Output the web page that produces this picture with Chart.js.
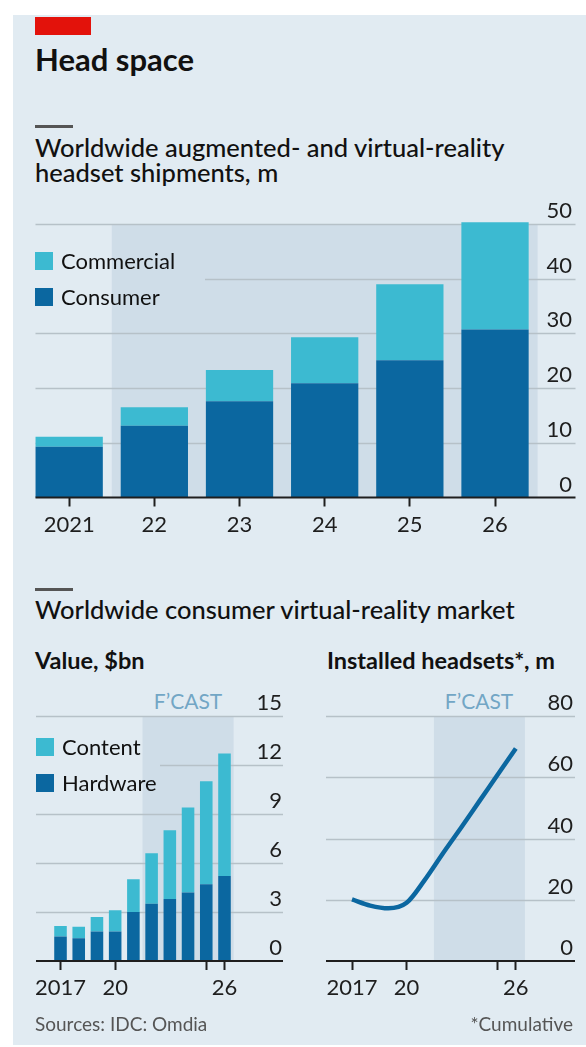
<!DOCTYPE html>
<html>
<head>
<meta charset="utf-8">
<script src="https://cdn.jsdelivr.net/npm/chart.js@4.4.1/dist/chart.umd.min.js"></script>
<style>
  body { margin: 0; width: 586px; height: 1047px; overflow: hidden; background: #fff; font-family: Lato, sans-serif; color: #111; }
  .abs { position: absolute; }
  #panel { left: 13px; top: 15px; width: 573px; height: 1030px; background: #e1ebf2; }
  #redbar { left: 35px; top: 17px; width: 56px; height: 18px; background: #e3120b; }
  .rule { left: 35px; width: 38px; height: 3px; background: #555; }
  #title { left: 35px; top: 44px; font-size: 31px; font-weight: 700; line-height: 31px; white-space: nowrap; }
  .sub { left: 35px; font-size: 25.5px; font-weight: 500; line-height: 25px; white-space: nowrap; }
  .sub2 { font-size: 23.5px; font-weight: 700; line-height: 23.5px; white-space: nowrap; }
  .legend { font-size: 22px; line-height: 36px; }
  .legend div { display: flex; align-items: center; height: 36px; }
  .legend span.sw { width: 18px; height: 18px; margin-right: 8px; display: inline-block; }
  .fc { color: #72a6c5; font-size: 21px; line-height: 21px; white-space: nowrap; transform: translateX(-50%); }
  .note { font-size: 19px; line-height: 19px; color: #555; white-space: nowrap; }
  canvas { position: absolute; }
</style>
</head>
<body>
<div class="abs" id="panel"></div>
<div class="abs" id="redbar"></div>
<div class="abs" id="title">Head space</div>

<div class="abs rule" style="top:125px"></div>
<div class="abs sub" style="top:134.5px">Worldwide augmented- and virtual-reality<br>headset shipments, m</div>

<div class="abs rule" style="top:588px"></div>
<div class="abs sub" style="top:597px">Worldwide consumer virtual-reality market</div>
<div class="abs sub2" style="left:35px; top:649px">Value, $bn</div>
<div class="abs sub2" style="left:327px; top:649px">Installed headsets*, m</div>

<div class="abs fc" style="left:323px; top:242px">FORECAST</div>
<div class="abs fc" style="left:188px; top:690px">F’CAST</div>
<div class="abs fc" style="left:479px; top:690px">F’CAST</div>

<canvas id="ship" width="586" height="360" style="left:0; top:190px"></canvas>
<canvas id="value" width="300" height="340" style="left:0; top:680px"></canvas>
<canvas id="installed" width="296" height="340" style="left:290px; top:680px"></canvas>

<div class="abs legend" id="shipLegend" style="left:35px; top:243px; width:170px"></div>
<div class="abs legend" id="valueLegend" style="left:36px; top:729px; width:124px"></div>

<div class="abs note" style="left:35px; top:1014px">Sources: IDC: Omdia</div>
<div class="abs note" style="right:13px; top:1014px">*Cumulative</div>

<script>
// headset shipments, m
const shipYears = ['2021', '22', '23', '24', '25', '26'];
const shipConsumer = [9.3, 13.1, 17.6, 20.9, 25.1, 30.7];
const shipCommercial = [1.8, 3.4, 5.7, 8.4, 13.9, 19.6];
const shipTicks = [0, 10, 20, 30, 40, 50];

// consumer VR market
const vrYears = ['2017', '2018', '2019', '2020', '2021', '2022', '2023', '2024', '2025', '2026'];
const vrYearLabels = ['2017', '', '', '20', '', '', '', '', '', '26'];
const vrTickMarks = [true, false, false, true, false, false, false, false, true, true];
const vrHardware = [1.5, 1.4, 1.8, 1.8, 3.0, 3.5, 3.8, 4.2, 4.7, 5.2];
const vrContent = [0.65, 0.7, 0.9, 1.3, 2.0, 3.1, 4.2, 5.2, 6.3, 7.5];
const vrValueTicks = [0, 3, 6, 9, 12, 15];
const vrInstalled = [20.1, 18.1, 17.2, 19.0, 26.5, 35.2, 43.6, 52.2, 60.8, 69.4];
const vrInstalledTicks = [0, 20, 40, 60, 80];

const DARK = '#0b67a0';
const LIGHT = '#3cbad1';
const SHADE = '#cfdde8';
const GRID = '#b6c1c8';
const AXIS = '#1e1e1e';
const FONT = { family: 'Lato, sans-serif', size: 22 };

// fill the html legends
function buildLegend(el, items) {
    el.innerHTML = items.map(it =>
        `<div><span class="sw" style="background:${it.color}"></span>${it.label}</div>`).join('');
}
buildLegend(document.getElementById('shipLegend'), [
    { label: 'Commercial', color: LIGHT },
    { label: 'Consumer', color: DARK }
]);
buildLegend(document.getElementById('valueLegend'), [
    { label: 'Content', color: LIGHT },
    { label: 'Hardware', color: DARK }
]);

// forecast shading, gridlines and the zero axis line
const econPlugin = {
    id: 'econ',
    beforeDatasetsDraw(chart, args, opts) {
        const { ctx, chartArea, scales: { x, y } } = chart;
        const pitch = x.getPixelForValue(1) - x.getPixelForValue(0);
        const fx0 = x.getPixelForValue(opts.forecastFrom) - pitch / 2;
        const fx1 = x.getPixelForValue(x.ticks.length - 1) + pitch / 2;
        ctx.save();
        ctx.fillStyle = SHADE;
        ctx.fillRect(fx0, chartArea.top, fx1 - fx0, chartArea.bottom - chartArea.top);

        let mask = null;
        if (opts.legend) {
            const r = document.getElementById(opts.legend).getBoundingClientRect();
            const c = chart.canvas.getBoundingClientRect();
            mask = { top: r.top - c.top, bottom: r.bottom - c.top, right: r.right - c.left };
        }
        ctx.strokeStyle = GRID;
        ctx.lineWidth = 1.5;
        y.ticks.forEach(t => {
            if (t.value === 0) return;
            const py = Math.round(y.getPixelForValue(t.value)) + 0.5;
            let x0 = opts.lineLeft;
            if (mask && py > mask.top && py < mask.bottom) x0 = mask.right;
            ctx.beginPath();
            ctx.moveTo(x0, py);
            ctx.lineTo(opts.lineRight, py);
            ctx.stroke();
        });
        ctx.restore();
    },
    afterDatasetsDraw(chart, args, opts) {
        const { ctx, scales: { y } } = chart;
        const py = y.getPixelForValue(0);
        ctx.save();
        ctx.strokeStyle = AXIS;
        ctx.lineWidth = 2;
        ctx.beginPath();
        ctx.moveTo(opts.lineLeft, py);
        ctx.lineTo(opts.lineRight, py);
        ctx.stroke();
        ctx.restore();
    }
};

// right-hand value axis, labels sit just above their gridlines
function yAxis(ticks, width) {
    return {
        position: 'right',
        min: ticks[0],
        max: ticks[ticks.length - 1],
        afterBuildTicks: s => { s.ticks = ticks.map(v => ({ value: v })); },
        afterFit: s => { s.width = width; },
        grid: { display: false },
        border: { display: false },
        ticks: { font: FONT, color: AXIS, crossAlign: 'far', labelOffset: -13 }
    };
}

function xAxis(labelFn, markFn) {
    return {
        offset: true,
        afterFit: s => { s.height = 42; },
        border: { display: false },
        grid: {
            offset: false,
            drawOnChartArea: false,
            drawTicks: true,
            tickLength: 9,
            tickWidth: 2,
            tickColor: c => markFn(c.index) ? AXIS : 'rgba(0,0,0,0)'
        },
        ticks: {
            font: FONT, color: AXIS, padding: 5, autoSkip: false, maxRotation: 0,
            callback: (v, i) => labelFn(i)
        }
    };
}

const common = {
    responsive: false,
    animation: false,
    events: [],
    plugins: { legend: { display: false }, tooltip: { enabled: false } }
};

new Chart(document.getElementById('ship'), {
    type: 'bar',
    data: {
        labels: shipYears,
        datasets: [
            { label: 'Consumer', data: shipConsumer, backgroundColor: DARK, clip: false },
            { label: 'Commercial', data: shipCommercial, backgroundColor: LIGHT, clip: false }
        ]
    },
    options: {
        ...common,
        barPercentage: 0.79,
        categoryPercentage: 1,
        layout: { padding: { left: 26.6, right: 14, top: 34, bottom: 10.5 } },
        scales: {
            x: { ...xAxis(i => shipYears[i], () => true), stacked: true },
            y: { ...yAxis(shipTicks, 34.4), stacked: true }
        },
        plugins: {
            ...common.plugins,
            econ: { forecastFrom: 1, lineLeft: 35.5, lineRight: 575.5, legend: 'shipLegend' }
        }
    },
    plugins: [econPlugin]
});

new Chart(document.getElementById('value'), {
    type: 'bar',
    data: {
        labels: vrYears,
        datasets: [
            { label: 'Hardware', data: vrHardware, backgroundColor: DARK },
            { label: 'Content', data: vrContent, backgroundColor: LIGHT }
        ]
    },
    options: {
        ...common,
        barPercentage: 0.69,
        categoryPercentage: 1,
        layout: { padding: { left: 51.4, right: 18, top: 36, bottom: 17 } },
        scales: {
            x: { ...xAxis(i => vrYearLabels[i], i => vrTickMarks[i]), stacked: true },
            y: { ...yAxis(vrValueTicks, 48.4), stacked: true }
        },
        plugins: {
            ...common.plugins,
            econ: { forecastFrom: 5, lineLeft: 36, lineRight: 283, legend: 'valueLegend' }
        }
    },
    plugins: [econPlugin]
});

new Chart(document.getElementById('installed'), {
    type: 'line',
    data: {
        labels: vrYears,
        datasets: [{
            label: 'Installed headsets',
            data: vrInstalled,
            borderColor: DARK,
            borderWidth: 4.5,
            pointRadius: 0,
            cubicInterpolationMode: 'monotone',
            borderJoinStyle: 'round'
        }]
    },
    options: {
        ...common,
        layout: { padding: { left: 52.9, right: 13, top: 36, bottom: 17 } },
        scales: {
            x: xAxis(i => vrYearLabels[i], i => vrTickMarks[i]),
            y: yAxis(vrInstalledTicks, 48.1)
        },
        plugins: {
            ...common.plugins,
            econ: { forecastFrom: 5, lineLeft: 36, lineRight: 285 }
        }
    },
    plugins: [econPlugin]
});
</script>
</body>
</html>
